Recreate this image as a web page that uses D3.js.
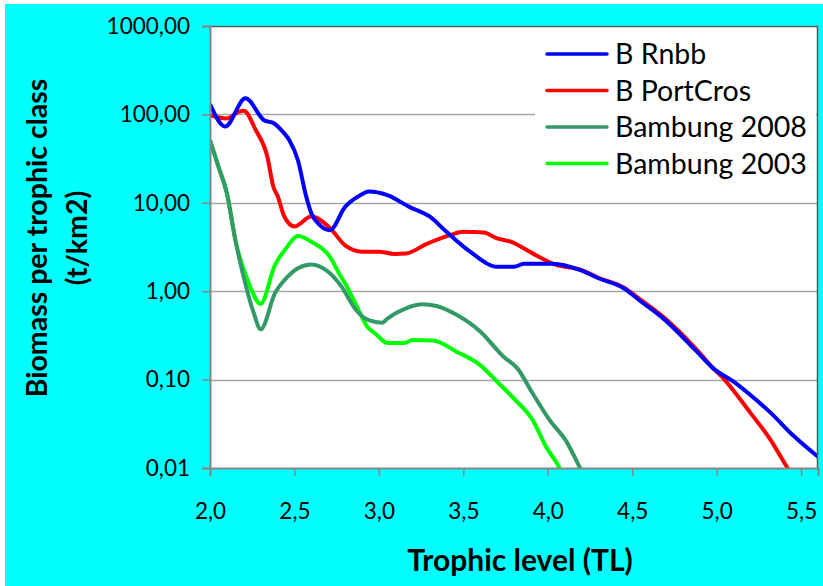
<!DOCTYPE html>
<html>
<head>
<meta charset="utf-8">
<script src="https://cdn.jsdelivr.net/npm/d3@7"></script>
<style>
  body { margin: 0; background: #fff; }
  text { font-family: Lato, "Open Sans", sans-serif; }
</style>
</head>
<body>
<div id="chart"></div>
<script>
// series: trophic level (x) and biomass (y)
var rnbbTL   = [2.0, 2.09, 2.21, 2.32, 2.38, 2.43, 2.47, 2.52, 2.57, 2.60, 2.65, 2.71, 2.80, 2.89, 2.94, 3.05, 3.18, 3.30, 3.40, 3.54, 3.70, 3.80, 3.86, 4.03, 4.19, 4.30, 4.45, 4.55, 4.69, 4.88, 4.98, 5.10, 5.20, 5.32, 5.45, 5.62];
var rnbbVal  = [131, 73, 152, 86, 79, 64, 51, 30.5, 11.7, 7.6, 5.6, 4.9, 9.0, 12.2, 13.4, 12.2, 9.0, 7.0, 4.7, 2.8, 1.89, 1.89, 2.05, 2.05, 1.74, 1.40, 1.08, 0.77, 0.48, 0.21, 0.134, 0.095, 0.067, 0.042, 0.0236, 0.0125];

var portTL   = [2.0, 2.10, 2.17, 2.20, 2.27, 2.34, 2.375, 2.40, 2.44, 2.50, 2.60, 2.71, 2.80, 2.90, 3.00, 3.09, 3.16, 3.28, 3.42, 3.50, 3.62, 3.70, 3.78, 3.91, 4.05, 4.19, 4.30, 4.45, 4.55, 4.69, 4.88, 4.98, 5.03, 5.20, 5.32, 5.42, 5.50];
var portVal  = [98, 90, 107, 110, 67, 33, 15.2, 12.0, 7.0, 5.4, 7.0, 5.2, 3.3, 2.8, 2.8, 2.64, 2.67, 3.4, 4.3, 4.7, 4.6, 3.96, 3.63, 2.68, 1.98, 1.76, 1.42, 1.1, 0.80, 0.50, 0.22, 0.134, 0.108, 0.042, 0.0207, 0.01, 0.006];

var bam08TL  = [2.0, 2.05, 2.10, 2.15, 2.21, 2.26, 2.30, 2.385, 2.46, 2.52, 2.60, 2.70, 2.78, 2.86, 2.94, 3.02, 3.05, 3.16, 3.26, 3.34, 3.46, 3.60, 3.74, 3.82, 3.91, 4.01, 4.11, 4.19, 4.25];
var bam08Val = [51, 25.6, 12.8, 3.8, 1.2, 0.56, 0.37, 0.95, 1.46, 1.82, 2.01, 1.66, 1.12, 0.63, 0.47, 0.44, 0.49, 0.64, 0.71, 0.68, 0.54, 0.35, 0.18, 0.134, 0.070, 0.035, 0.020, 0.0101, 0.006];

var bam03TL  = [2.0, 2.05, 2.10, 2.15, 2.23, 2.30, 2.385, 2.45, 2.52, 2.60, 2.71, 2.77, 2.80, 2.88, 2.93, 2.98, 3.05, 3.15, 3.20, 3.32, 3.46, 3.60, 3.70, 3.80, 3.91, 3.99, 4.07, 4.12];
var bam03Val = [51, 25.6, 12.8, 3.8, 1.23, 0.72, 1.98, 3.05, 4.2, 3.63, 2.45, 1.52, 1.23, 0.61, 0.40, 0.33, 0.26, 0.26, 0.28, 0.277, 0.207, 0.146, 0.095, 0.061, 0.035, 0.0174, 0.01, 0.006];

var seriesNames  = ["B Rnbb", "B PortCros", "Bambung 2008", "Bambung 2003"];
var seriesColors = ["#0000ff", "#ff0000", "#339966", "#00ff00"];
var yTicks = [0.01, 0.1, 1, 10, 100, 1000];
var yTickLabels = ["0,01", "0,10", "1,00", "10,00", "100,00", "1000,00"];
var xTicks = [2.0, 2.5, 3.0, 3.5, 4.0, 4.5, 5.0, 5.5];
var xTickLabels = ["2,0", "2,5", "3,0", "3,5", "4,0", "4,5", "5,0", "5,5"];

var svgWidth = 823;
var svgHeight = 586;

var margin = { top: 26, right: 5, bottom: 118, left: 210 };
var width = 818 - margin.left;
var height = 468 - margin.top;

var svg = d3.select("#chart")
  .append("svg")
  .attr("width", svgWidth)
  .attr("height", svgHeight);

// cyan background with thin white strip left/top
svg.append("rect")
  .attr("x", 5).attr("y", 4)
  .attr("width", svgWidth - 5).attr("height", svgHeight - 4)
  .attr("fill", "#00ffff");

var chartGroup = svg.append("g")
  .attr("transform", `translate(${margin.left}, ${margin.top})`);

var xScale = d3.scaleLinear().domain([2.0, 5.6]).range([0, width]);
var yScale = d3.scaleLog().domain([0.01, 1000]).range([height, 0]);

// plot area
chartGroup.append("rect")
  .attr("width", width).attr("height", height)
  .attr("fill", "#fff");

// gridlines
chartGroup.selectAll(".grid")
  .data(yTicks.slice(1, 5))
  .enter()
  .append("line")
  .attr("x1", 0).attr("x2", width)
  .attr("y1", d => Math.round(yScale(d)) + 0.5)
  .attr("y2", d => Math.round(yScale(d)) + 0.5)
  .attr("stroke", "#a6a6a6")
  .attr("stroke-width", 1.5);

// legend box (white, sits over gridlines)
var legend = chartGroup.append("g");
legend.append("rect")
  .attr("x", 535 - margin.left).attr("y", 34 - margin.top)
  .attr("width", 816 - 535).attr("height", 150)
  .attr("fill", "#fff");

// lines
chartGroup.append("clipPath").attr("id", "clip")
  .append("rect").attr("width", width).attr("height", height);

var allSeries = [
  { tl: rnbbTL, val: rnbbVal },
  { tl: portTL, val: portVal },
  { tl: bam08TL, val: bam08Val },
  { tl: bam03TL, val: bam03Val }
];

var line = d3.line()
  .x(d => xScale(d[0]))
  .y(d => yScale(d[1]))
  .curve(d3.curveMonotoneX);

// draw in reverse so the blue one ends on top
[3, 2, 1, 0].forEach(function(i) {
  var pts = allSeries[i].tl.map((t, j) => [t, allSeries[i].val[j]]);
  chartGroup.append("path")
    .datum(pts)
    .attr("clip-path", "url(#clip)")
    .attr("fill", "none")
    .attr("stroke", seriesColors[i])
    .attr("stroke-width", 4)
    .attr("stroke-linejoin", "round")
    .attr("d", line);
});

// plot border
chartGroup.append("path")
  .attr("d", `M0,0.5H${width - 0.5}V${height}`)
  .attr("fill", "none")
  .attr("stroke", "#595959")
  .attr("stroke-width", 1.5);

// axes
var leftAxis = d3.axisLeft(yScale)
  .tickValues(yTicks)
  .tickFormat((d, i) => yTickLabels[i])
  .tickSize(8)
  .tickPadding(12);

var bottomAxis = d3.axisBottom(xScale)
  .tickValues(xTicks)
  .tickFormat((d, i) => xTickLabels[i])
  .tickSize(8)
  .tickPadding(27);

var yAxis = chartGroup.append("g").call(leftAxis);
var xAxis = chartGroup.append("g")
  .attr("transform", `translate(0, ${height})`)
  .call(bottomAxis);

[yAxis, xAxis].forEach(function(ax) {
  ax.select(".domain").attr("stroke", "#868686").attr("stroke-width", 2);
  ax.selectAll(".tick line").attr("stroke", "#868686").attr("stroke-width", 1.5);
  ax.selectAll(".tick text")
    .attr("fill", "#000")
    .style("font-size", "22.5px")
    .style("font-family", "Lato, sans-serif");
});

// legend entries
seriesNames.forEach(function(name, i) {
  var y = 54 + i * 36.5 - margin.top;
  legend.append("line")
    .attr("x1", 547 - margin.left).attr("x2", 607 - margin.left)
    .attr("y1", y).attr("y2", y)
    .attr("stroke", seriesColors[i])
    .attr("stroke-width", 3.5)
    .attr("stroke-linecap", "round");
  legend.append("text")
    .attr("x", 615 - margin.left)
    .attr("y", y)
    .attr("dy", "0.36em")
    .style("font-size", "28.5px")
    .text(name);
});

// axis titles
svg.append("text")
  .attr("transform", "translate(47, 238) rotate(-90)")
  .attr("text-anchor", "middle")
  .style("font-size", "28.5px")
  .style("font-weight", "bold")
  .text("Biomass per trophic class");

svg.append("text")
  .attr("transform", "translate(87, 238) rotate(-90)")
  .attr("text-anchor", "middle")
  .style("font-size", "28.5px")
  .style("font-weight", "bold")
  .text("(t/km2)");

svg.append("text")
  .attr("x", 520)
  .attr("y", 571)
  .attr("text-anchor", "middle")
  .style("font-size", "30px")
  .style("font-weight", "bold")
  .text("Trophic level (TL)");
</script>
</body>
</html>
